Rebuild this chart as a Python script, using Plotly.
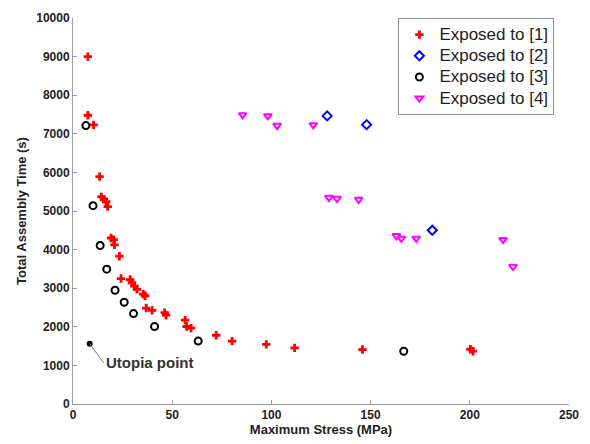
import plotly.graph_objects as go

# Exposed to [1]
x1 = [7.5, 7.5, 10.4, 13.4, 14.3, 15.6, 16.7, 17.5, 19.2, 20.5, 20.9, 23.4, 24.2,
      28.8, 29.7, 31.0, 32.2, 35.4, 36.3, 36.9, 39.9, 46.2, 46.9, 56.5, 57.3, 59.5,
      72.2, 80.2, 97.4, 111.7, 145.9, 200.3, 201.6]
y1 = [9000, 7480, 7230, 5890, 5365, 5307, 5239, 5113, 4300, 4257, 4123, 3829, 3250,
      3224, 3141, 3056, 2972, 2846, 2804, 2486, 2426, 2368, 2300, 2174, 2008, 1965,
      1781, 1630, 1545, 1453, 1411, 1419, 1368]
# Exposed to [2]
x2 = [128.1, 148.0, 181.1]
y2 = [7464, 7237, 4500]
# Exposed to [3]
x3 = [6.5, 10.1, 13.7, 17.0, 21.2, 25.8, 30.5, 41.1, 63.1, 166.7]
y3 = [7212, 5139, 4106, 3494, 2947, 2637, 2343, 2008, 1630, 1368]
# Exposed to [4]
x4 = [85.5, 98.2, 102.9, 121.1, 129.0, 133.1, 144.0, 163.0, 165.5, 173.0, 216.8, 221.8]
y4 = [7490, 7464, 7212, 7229, 5348, 5323, 5298, 4358, 4290, 4290, 4257, 3559]
# Utopia point
xu = [8.4]
yu = [1562]

series_names = ["Exposed to [1]", "Exposed to [2]", "Exposed to [3]", "Exposed to [4]"]
xticks = [0, 50, 100, 150, 200, 250]
yticks = [0, 1000, 2000, 3000, 4000, 5000, 6000, 7000, 8000, 9000, 10000]

FONT = "Liberation Sans, Arial"


def lname(s):
    return f'<span style="font-size:17px">{s}</span>'


fig = go.Figure()
fig.add_trace(go.Scatter(x=x1, y=y1, mode="markers", name=lname(series_names[0]),
                         marker=dict(symbol="cross", size=7, color="#ff0000",
                                     line=dict(width=0))))
fig.add_trace(go.Scatter(x=x2, y=y2, mode="markers", name=lname(series_names[1]),
                         marker=dict(symbol="diamond-open", size=7, color="#0000ff",
                                     line=dict(width=2))))
fig.add_trace(go.Scatter(x=x3, y=y3, mode="markers", name=lname(series_names[2]),
                         marker=dict(symbol="circle-open", size=7, color="#000000",
                                     line=dict(width=2))))
fig.add_trace(go.Scatter(x=x4, y=y4, mode="markers", name=lname(series_names[3]),
                         marker=dict(symbol="triangle-down-open", size=7, color="#ff00ff",
                                     line=dict(width=2))))
fig.add_trace(go.Scatter(x=xu, y=yu, mode="markers", showlegend=False,
                         marker=dict(symbol="circle", size=6, color="#000000")))

fig.add_annotation(x=xu[0], y=yu[0], text="<b>Utopia point</b>", showarrow=True,
                   arrowhead=0, arrowwidth=1, arrowcolor="#808080",
                   ax=14, ay=19, xanchor="left", yanchor="middle",
                   font=dict(size=15, color="#333333", family=FONT))

axis_common = dict(showgrid=False, zeroline=False, showline=True, linecolor="#a0a0a0",
                   linewidth=1, ticks="inside", ticklen=4, tickcolor="#a0a0a0",
                   tickfont=dict(size=12, color="#222222", family=FONT),
                   mirror=False)

fig.update_layout(
    width=590, height=444,
    margin=dict(l=73, r=14, t=11, b=36),
    paper_bgcolor="white", plot_bgcolor="white",
    font=dict(family=FONT, color="#222222"),
    xaxis=dict(range=[0, 250], tickvals=xticks, ticktext=[f"<b>{v}</b>" for v in xticks],
               title=dict(text="<b>Maximum Stress (MPa)</b>", font=dict(size=13), standoff=1),
               **axis_common),
    yaxis=dict(range=[0, 10000], tickvals=yticks, ticktext=[f"<b>{v}</b>" for v in yticks],
               title=dict(text="<b>Total Assembly Time (s)</b>", font=dict(size=13), standoff=6),
               **axis_common),
    legend=dict(x=0.656, y=1.0, xanchor="left", yanchor="top",
                bordercolor="#909090", borderwidth=1, bgcolor="white",
                font=dict(size=14, color="#222222"), tracegroupgap=0,
                itemsizing="trace"),
)

fig.write_html("out.html")
